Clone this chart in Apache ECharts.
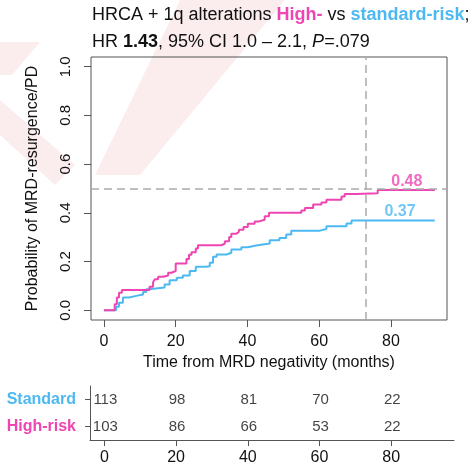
<!DOCTYPE html>
<html><head><meta charset="utf-8">
<script src="https://cdn.jsdelivr.net/npm/echarts@6/dist/echarts.min.js"></script>
<style>html,body{margin:0;padding:0;background:#fff}#c{width:476px;height:467px}</style>
</head><body><div id="c"></div>
<script>
// Cumulative incidence steps (months, probability)
const highT = [0, 3.0, 3.6, 4.2, 5.0, 12.7, 13.7, 14.2, 15.1, 16.5, 17.9, 18.8, 20.0, 23.0, 23.7, 24.4, 25.6, 26.2, 32.7, 33.7, 34.9, 35.5, 36.9, 37.6, 38.9, 40.1, 42.0, 43.2, 44.8, 46.0, 55.0, 56.0, 58.3, 60.6, 62.0, 66.2, 67.1, 70.4, 76.3, 92.2];
const highP = [0, 0.025, 0.052, 0.072, 0.083, 0.097, 0.116, 0.127, 0.138, 0.143, 0.154, 0.161, 0.192, 0.211, 0.228, 0.238, 0.254, 0.267, 0.274, 0.283, 0.301, 0.314, 0.322, 0.331, 0.342, 0.355, 0.365, 0.372, 0.386, 0.400, 0.410, 0.420, 0.434, 0.443, 0.454, 0.467, 0.477, 0.481, 0.494, 0.494];
const stdT = [0, 3.4, 4.2, 5.3, 7.0, 9.0, 10.9, 11.8, 12.6, 16.9, 18.3, 20.3, 22.0, 23.9, 25.6, 28.5, 29.5, 30.4, 31.4, 34.2, 35.5, 38.3, 40.1, 42.4, 46.2, 48.9, 50.8, 52.2, 60.2, 62.0, 67.6, 69.0, 92.2];
const stdP = [0, 0.014, 0.031, 0.052, 0.059, 0.065, 0.075, 0.086, 0.093, 0.106, 0.123, 0.134, 0.143, 0.161, 0.179, 0.181, 0.195, 0.220, 0.229, 0.236, 0.249, 0.259, 0.266, 0.274, 0.288, 0.297, 0.311, 0.327, 0.334, 0.345, 0.356, 0.369, 0.369];
const xTicks = [0, 20, 40, 60, 80];
const yTicks = [0, 0.2, 0.4, 0.6, 0.8, 1.0];
const riskGroups = ['Standard', 'High-risk'];
const riskStandard = [113, 98, 81, 70, 22];
const riskHigh = [103, 86, 66, 53, 22];
const finalHigh = '0.48';
const finalStd = '0.37';
const refLineX = 73;
const refLineY = 0.5;

const PINK = '#EE45B2';
const BLUE = '#4DB9F2';
const FONT = 'Liberation Sans, Arial, Helvetica, sans-serif';

const chart = echarts.init(document.getElementById('c'), null, {renderer: 'canvas'});
const zip = (a, b) => a.map((v, i) => [v, b[i]]);
const riskData = [];
xTicks.forEach((t, i) => {
  riskData.push([t, 'Standard', riskStandard[i]]);
  riskData.push([t, 'High-risk', riskHigh[i]]);
});

chart.setOption({
  animation: false,
  textStyle: {fontFamily: FONT},
  graphic: [
    {type: 'polygon', z: -10, silent: true, shape: {points: [[180,0],[285,0],[140,175],[95,175]]}, style: {fill: '#fbecee'}},
    {type: 'polygon', z: -10, silent: true, shape: {points: [[0,100],[0,135],[55,185],[75,165]]}, style: {fill: '#fbecee'}},
    {type: 'polygon', z: -10, silent: true, shape: {points: [[0,42],[40,42],[12,75],[0,75]]}, style: {fill: '#fbecee'}},
    {type: 'text', left: 92, top: 6, style: {
      text: 'HRCA + 1q alterations {p|High-} vs {b|standard-risk};',
      font: '18px ' + FONT, fill: '#111',
      rich: {p: {fontFamily: FONT, fontSize: 18, fontWeight: 'bold', fill: PINK, color: PINK},
             b: {fontFamily: FONT, fontSize: 18, fontWeight: 'bold', fill: BLUE, color: BLUE}}
    }},
    {type: 'text', left: 92, top: 33, style: {
      text: 'HR {k|1.43}, 95% CI 1.0 \u2013 2.1, {i|P}=.079',
      font: '18px ' + FONT, fill: '#111',
      rich: {k: {fontFamily: FONT, fontSize: 18, fontWeight: 'bold', color: '#111'},
             i: {fontFamily: FONT, fontSize: 18, fontStyle: 'italic', color: '#111'}}
    }}
  ],
  grid: [
    {left: 91, right: 29, top: 57, height: 263, show: true, borderColor: '#555', borderWidth: 1, backgroundColor: 'transparent'},
    {left: 90, right: 22, top: 386, height: 54}
  ],
  xAxis: [
    {gridIndex: 0, type: 'value', min: -3.6, max: 95.6,
     name: 'Time from MRD negativity (months)', nameLocation: 'middle', nameGap: 34,
     nameTextStyle: {fontSize: 16, color: '#111', fontFamily: FONT},
     axisLine: {show: false, onZero: false}, splitLine: {show: false},
     axisTick: {show: true, length: 7, lineStyle: {color: '#555'}, customValues: xTicks},
     axisLabel: {fontSize: 16, color: '#111', margin: 14, customValues: xTicks, formatter: v => String(v)}},
    {gridIndex: 1, type: 'value', min: -4.0, max: 97.5,
     axisLine: {show: true, onZero: false, lineStyle: {color: '#555'}}, splitLine: {show: false},
     axisTick: {show: true, length: 6, lineStyle: {color: '#555'}, customValues: xTicks},
     axisLabel: {fontSize: 16, color: '#111', margin: 10, customValues: xTicks, formatter: v => String(v)}}
  ],
  yAxis: [
    {gridIndex: 0, type: 'value', min: -0.04, max: 1.04,
     name: 'Probability of MRD-resurgence/PD', nameLocation: 'middle', nameGap: 50,
     nameTextStyle: {fontSize: 16, color: '#111', fontFamily: FONT},
     axisLine: {show: false, onZero: false}, splitLine: {show: false},
     axisTick: {show: true, length: 7, lineStyle: {color: '#555'}, customValues: yTicks},
     axisLabel: {fontSize: 15, color: '#111', rotate: 90, margin: 18, customValues: yTicks, formatter: v => v.toFixed(1)}},
    {gridIndex: 1, type: 'category', data: riskGroups, inverse: true,
     axisLine: {show: true, onZero: false, lineStyle: {color: '#555'}},
     axisTick: {show: true, length: 5, alignWithLabel: true, lineStyle: {color: '#555'}},
     axisLabel: {margin: 14, fontSize: 16, fontWeight: 'bold',
       formatter: v => v === 'Standard' ? '{s|' + v + '}' : '{h|' + v + '}',
       rich: {s: {color: BLUE, fontSize: 16, fontWeight: 'bold', fontFamily: FONT},
              h: {color: PINK, fontSize: 16, fontWeight: 'bold', fontFamily: FONT}}}}
  ],
  series: [
    {type: 'line', xAxisIndex: 0, yAxisIndex: 0, step: 'end', data: zip(stdT, stdP), showSymbol: false,
     lineStyle: {color: BLUE, width: 2}, z: 3},
    {type: 'line', xAxisIndex: 0, yAxisIndex: 0, step: 'end', data: zip(highT, highP), showSymbol: false,
     lineStyle: {color: PINK, width: 2}, z: 4,
     markLine: {silent: true, symbol: 'none', label: {show: false},
       lineStyle: {color: '#aaa', type: [8, 5], width: 1.5},
       data: [{xAxis: refLineX}, {yAxis: refLineY}]}},
    {type: 'scatter', xAxisIndex: 0, yAxisIndex: 0, symbolSize: 0, silent: true,
     data: [{value: [84.4, 0.527], name: finalHigh, label: {color: PINK}},
            {value: [82.5, 0.405], name: finalStd, label: {color: BLUE}}],
     label: {show: true, position: 'inside', formatter: p => p.name, fontSize: 16, fontWeight: 'bold', fontFamily: FONT}},
    {type: 'scatter', xAxisIndex: 1, yAxisIndex: 1, symbolSize: 0, silent: true, data: riskData,
     label: {show: true, position: 'inside', offset: [1, 0], formatter: p => String(p.value[2]), fontSize: 15, color: '#111', fontFamily: FONT}}
  ]
});
</script></body></html>
